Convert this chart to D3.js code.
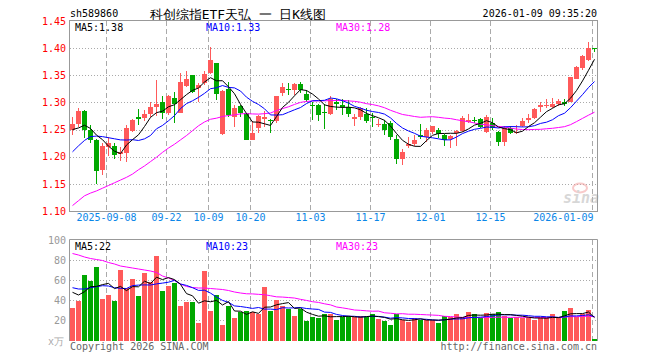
<!DOCTYPE html>
<html><head><meta charset="utf-8">
<script src="https://cdn.jsdelivr.net/npm/d3@7"></script>
<style>
html,body{margin:0;padding:0;background:#fff;}
svg{display:block;}
text{font-family:"DejaVu Sans Mono",monospace;}
</style></head><body>
<div id="chart"></div>
<script>
// ---------- data ----------
const dates = [
"2025-08-29","2025-09-01","2025-09-02","2025-09-03","2025-09-04","2025-09-05",
"2025-09-08","2025-09-09","2025-09-10","2025-09-11","2025-09-12",
"2025-09-15","2025-09-16","2025-09-17","2025-09-18","2025-09-19",
"2025-09-22","2025-09-23","2025-09-24","2025-09-25","2025-09-26","2025-09-29","2025-09-30",
"2025-10-09","2025-10-10","2025-10-13","2025-10-14","2025-10-15","2025-10-16","2025-10-17",
"2025-10-20","2025-10-21","2025-10-22","2025-10-23","2025-10-24",
"2025-10-27","2025-10-28","2025-10-29","2025-10-30","2025-10-31",
"2025-11-03","2025-11-04","2025-11-05","2025-11-06","2025-11-07",
"2025-11-10","2025-11-11","2025-11-12","2025-11-13","2025-11-14",
"2025-11-17","2025-11-18","2025-11-19","2025-11-20","2025-11-21",
"2025-11-24","2025-11-25","2025-11-26","2025-11-27","2025-11-28",
"2025-12-01","2025-12-02","2025-12-03","2025-12-04","2025-12-05",
"2025-12-08","2025-12-09","2025-12-10","2025-12-11","2025-12-12",
"2025-12-15","2025-12-16","2025-12-17","2025-12-18","2025-12-19",
"2025-12-22","2025-12-23","2025-12-24","2025-12-25","2025-12-26",
"2025-12-29","2025-12-30","2025-12-31",
"2026-01-05","2026-01-06","2026-01-07","2026-01-08","2026-01-09"];

const open  = [1.250,1.260,1.285,1.250,1.231,1.176,1.217,1.220,1.205,1.206,
               1.248,1.273,1.271,1.279,1.292,1.300,1.281,1.309,1.281,1.330,
               1.350,1.326,1.335,1.355,1.372,1.242,1.324,1.273,1.293,1.281,
               1.231,1.252,1.270,1.268,1.265,1.318,1.324,1.323,1.334,1.315,
               1.296,1.295,1.282,1.279,1.301,1.296,1.292,1.269,1.273,1.279,
               1.273,1.258,1.260,1.263,1.233,1.196,1.220,1.224,1.240,1.237,
               1.246,1.250,1.240,1.232,1.244,1.248,1.264,1.268,1.269,1.246,
               1.262,1.246,1.228,1.252,1.243,1.256,1.268,1.271,1.292,1.293,
               1.291,1.297,1.301,1.301,1.344,1.363,1.378,1.400];
const high  = [1.273,1.289,1.286,1.258,1.232,1.225,1.237,1.225,1.217,1.258,
               1.269,1.287,1.286,1.300,1.341,1.312,1.314,1.320,1.355,1.357,
               1.350,1.336,1.357,1.403,1.373,1.323,1.338,1.295,1.295,1.281,
               1.265,1.277,1.285,1.269,1.312,1.336,1.336,1.336,1.338,1.323,
               1.301,1.298,1.298,1.311,1.307,1.307,1.304,1.279,1.292,1.289,
               1.281,1.269,1.268,1.265,1.240,1.215,1.237,1.240,1.260,1.252,
               1.257,1.252,1.242,1.240,1.249,1.275,1.279,1.273,1.271,1.277,
               1.271,1.248,1.256,1.256,1.258,1.271,1.279,1.289,1.300,1.306,
               1.309,1.307,1.306,1.347,1.368,1.387,1.412,1.401];
const low   = [1.240,1.254,1.235,1.225,1.150,1.167,1.201,1.196,1.193,1.191,
               1.246,1.258,1.265,1.273,1.275,1.269,1.277,1.263,1.280,1.329,
               1.318,1.301,1.332,1.353,1.304,1.240,1.273,1.255,1.273,1.230,
               1.230,1.244,1.255,1.243,1.263,1.311,1.314,1.314,1.317,1.300,
               1.268,1.266,1.251,1.277,1.286,1.277,1.274,1.257,1.268,1.262,
               1.255,1.254,1.240,1.231,1.187,1.185,1.216,1.220,1.233,1.228,
               1.242,1.234,1.220,1.216,1.219,1.246,1.262,1.262,1.252,1.244,
               1.250,1.219,1.220,1.242,1.241,1.254,1.262,1.269,1.282,1.289,
               1.289,1.293,1.294,1.300,1.343,1.360,1.377,1.393];
const close = [1.261,1.285,1.249,1.230,1.174,1.219,1.225,1.203,1.208,1.253,
               1.268,1.270,1.279,1.292,1.297,1.281,1.311,1.298,1.338,1.344,
               1.320,1.333,1.353,1.378,1.315,1.321,1.277,1.289,1.280,1.231,
               1.243,1.275,1.274,1.265,1.312,1.328,1.322,1.334,1.322,1.304,
               1.295,1.277,1.280,1.307,1.298,1.292,1.279,1.274,1.289,1.265,
               1.271,1.260,1.250,1.237,1.196,1.208,1.224,1.231,1.236,1.249,
               1.257,1.241,1.231,1.238,1.248,1.271,1.268,1.266,1.254,1.273,
               1.252,1.228,1.252,1.244,1.245,1.266,1.271,1.287,1.295,1.296,
               1.297,1.303,1.297,1.346,1.366,1.386,1.401,1.398];
// volume, 万
const volume = [32,39,65,59,73,41,45,39,70,52,
                61,44,67,58,84,49,54,57,34,38,
                38,17,69,29,45,15,34,22,28,29,
                28,26,53,29,40,34,31,24,31,19,
                23,22,26,26,20,23,24,23,24,23,
                26,21,19,15,26,20,18,22,20,20,
                20,17,24,23,26,22,28,26,22,27,
                26,28,24,22,23,22,23,20,22,22,
                26,22,29,32,23,26,30,1];

const ma5Lead  = [1.250,1.253,1.258,1.252];
const ma10Lead = [1.209,1.220,1.230,1.237,1.238,1.237,1.235,1.233,1.231];
const ma30Lead = [1.110,1.119,1.128,1.133,1.137,1.142,1.147,1.152,1.157,1.162,
                  1.168,1.176,1.183,1.191,1.199,1.208,1.216,1.223,1.231,1.239,
                  1.248,1.257,1.264,1.269,1.271,1.274,1.276,1.277,1.279];
const vma5Lead  = [47.7,45,48.3,53.3];
const vma10Lead = [52.3,51,51,52.3,53.3,54.3,54,52.3,51.7];
const vma30Lead = [86.5,85,83,81.5,80.5,79.5,77.5,76,74,73,
                   72,71,70,69,67.5,64,62,59.5,56,53.5,
                   52.5,52,52,51.5,51,50.5,49.5,48,47];

const priceTicks = [1.10,1.15,1.20,1.25,1.30,1.35,1.40,1.45];
const volTicks = [20,40,60,80,100];
const dateTicks = ["2025-09-08","2025-09-22","2025-10-09","2025-10-20","2025-11-03","2025-11-17","2025-12-01","2025-12-15","2026-01-09"];
const dateTickLabels = ["2025-09-08","09-22","10-09","10-20","11-03","11-17","12-01","12-15","2026-01-09"];

const code = "sh589860";
const title = "科创综指ETF天弘 一 日K线图";
const stamp = "2026-01-09 09:35:20";
const maLabels = ["MA5:1.38","MA10:1.33","MA30:1.28"];
const vmaLabels = ["MA5:22","MA10:23","MA30:23"];

// ---------- helpers ----------
function movingAvg(vals, n, lead){
  return vals.map((v,i)=> i < n-1 ? lead[i] : d3.mean(vals.slice(i-n+1,i+1)));
}
const ma5 = movingAvg(close,5,ma5Lead), ma10 = movingAvg(close,10,ma10Lead), ma30 = movingAvg(close,30,ma30Lead);
const vma5 = movingAvg(volume,5,vma5Lead), vma10 = movingAvg(volume,10,vma10Lead), vma30 = movingAvg(volume,30,vma30Lead);

const RED = "#ff5a5a", GREEN = "#00a800";
const W = 660, H = 360;
const L = 69.5, R = 597.5;

const svg = d3.select("#chart").append("svg").attr("width",W).attr("height",H);

const x = d3.scaleBand().domain(dates).range([L,R]).padding(0);
const cx = d => x(d) + x.bandwidth()/2;
const gx = d => x(d) + 1; // grid line position
const y = d3.scaleLinear().domain([1.10,1.45]).range([211,21]);
const yv = d3.scaleLinear().domain([0,100]).range([340,240]);

// ---------- header ----------
svg.append("text").attr("x",70).attr("y",17).attr("font-size",10).attr("fill","#000").text(code);
svg.append("text").attr("x",150).attr("y",19).attr("font-size",13)
   .attr("textLength",176).attr("lengthAdjust","spacingAndGlyphs")
   .attr("font-family","'Noto Sans CJK SC',sans-serif").attr("fill","#000").text(title);
svg.append("text").attr("x",597).attr("y",17).attr("text-anchor","end").attr("font-size",10).attr("fill","#000").text(stamp);

// ---------- grids ----------
const grid = svg.append("g");
grid.selectAll(".hp").data(priceTicks.filter(t=>t>1.101 && t<1.449)).join("line")
  .attr("x1",70).attr("x2",597).attr("y1",d=>Math.round(y(d))+0.5).attr("y2",d=>Math.round(y(d))+0.5)
  .attr("stroke","#aaa").attr("stroke-dasharray","1,2");
grid.selectAll(".hv").data(volTicks.filter(t=>t<100)).join("line")
  .attr("x1",70).attr("x2",597).attr("y1",d=>Math.round(yv(d))+0.5).attr("y2",d=>Math.round(yv(d))+0.5)
  .attr("stroke","#aaa").attr("stroke-dasharray","1,2");
[[21,211],[240,341]].forEach(([a,b])=>{
  grid.append("g").selectAll("line").data(dateTicks).join("line")
    .attr("x1",d=>Math.floor(gx(d))+0.5).attr("x2",d=>Math.floor(gx(d))+0.5)
    .attr("y1",a).attr("y2",b)
    .attr("stroke","#aaa").attr("stroke-dasharray","5,3");
});

// ---------- watermark ----------
const wm = svg.append("g").attr("opacity",0.55);
wm.append("ellipse").attr("cx",580).attr("cy",188).attr("rx",7).attr("ry",4.5)
  .attr("fill","none").attr("stroke","#f4a0a0").attr("stroke-width",2);
wm.append("text").attr("x",581).attr("y",203).attr("text-anchor","middle")
  .attr("font-family","'DejaVu Sans',sans-serif").attr("font-style","italic").attr("font-weight","bold")
  .attr("font-size",15).attr("fill","#b8b8b8").text("sina");

// ---------- candles ----------
const idx = d3.range(dates.length);
const candles = svg.append("g").attr("shape-rendering","crispEdges");
candles.selectAll(".wick").data(idx).join("line")
  .attr("x1",i=>cx(dates[i])).attr("x2",i=>cx(dates[i]))
  .attr("y1",i=>y(high[i])).attr("y2",i=>y(low[i]))
  .attr("stroke",i=>close[i]>=open[i]?RED:GREEN);
candles.selectAll(".body").data(idx).join("rect")
  .attr("x",i=>x(dates[i])+0.5).attr("width",x.bandwidth()-1)
  .attr("y",i=>y(Math.max(open[i],close[i])))
  .attr("height",i=>Math.max(1,Math.abs(y(open[i])-y(close[i]))))
  .attr("fill",i=>close[i]>=open[i]?RED:GREEN);

// ---------- volume bars ----------
svg.append("g").attr("shape-rendering","crispEdges").selectAll("rect").data(idx).join("rect")
  .attr("x",i=>x(dates[i])+0.5).attr("width",x.bandwidth()-1)
  .attr("y",i=>yv(volume[i])).attr("height",i=>yv(0)-yv(volume[i])+1)
  .attr("fill",i=>close[i]>=open[i]?RED:GREEN);

// ---------- MA lines ----------
function drawLine(vals, scale, color){
  const ln = d3.line().x((v,i)=>cx(dates[i])).y(v=>scale(v));
  svg.append("path").datum(vals).attr("d",ln).attr("fill","none")
    .attr("stroke",color).attr("stroke-width",1);
}
drawLine(ma30,y,"#ff00ff"); drawLine(ma10,y,"#0000ff"); drawLine(ma5,y,"#000");
drawLine(vma30,yv,"#ff00ff"); drawLine(vma10,yv,"#0000ff"); drawLine(vma5,yv,"#000");

// ---------- borders ----------
svg.append("rect").attr("x",69.5).attr("y",20.5).attr("width",528).attr("height",191)
  .attr("fill","none").attr("stroke","#999");
svg.append("path").attr("d","M69.5,341V239.5H597.5V341").attr("fill","none").attr("stroke","#999");

// ---------- axes ----------
const ya = svg.append("g").attr("transform","translate(66,0)")
  .call(d3.axisLeft(y).tickValues(priceTicks).tickFormat(d3.format(".2f")).tickSize(0).tickPadding(0));
ya.select(".domain").remove();
ya.selectAll("text").attr("fill","#f00").attr("font-size",10).attr("font-family","'DejaVu Sans Mono',monospace");

const yva = svg.append("g").attr("transform","translate(66,0)")
  .call(d3.axisLeft(yv).tickValues(volTicks).tickSize(0).tickPadding(0));
yva.select(".domain").remove();
yva.selectAll("text").attr("fill","#999").attr("font-size",10).attr("font-family","'DejaVu Sans Mono',monospace");

const xa = svg.append("g").attr("transform","translate(0,214)")
  .call(d3.axisBottom(x).tickValues(dateTicks).tickFormat((d,i)=>dateTickLabels[i]).tickSize(0).tickPadding(0));
xa.select(".domain").remove();
xa.selectAll("text").attr("fill","#0a86e8").attr("font-size",10).attr("font-family","'DejaVu Sans Mono',monospace")
  .attr("dy","0.71em").attr("x",-2);
xa.selectAll(".tick").filter((d,i)=>i===dateTicks.length-1).select("text")
  .attr("text-anchor","end").attr("x",-1);

// ---------- MA legends ----------
const legX = [75,206,336], legC = ["#000","#0000ff","#ff00ff"];
maLabels.forEach((t,i)=>svg.append("text").attr("x",legX[i]).attr("y",31).attr("font-size",10).attr("fill",legC[i]).text(t));
vmaLabels.forEach((t,i)=>svg.append("text").attr("x",legX[i]).attr("y",250).attr("font-size",10).attr("fill",legC[i]).text(t));

// ---------- footer ----------
svg.append("text").attr("x",48).attr("y",345).attr("font-size",10).attr("fill","#aaa")
  .attr("font-family","'Noto Sans CJK SC',sans-serif").text("x万");
svg.append("text").attr("x",70).attr("y",350).attr("font-size",10).attr("fill","#666").text("Copyright 2026 SINA.COM");
svg.append("text").attr("x",597).attr("y",350).attr("text-anchor","end").attr("font-size",10).attr("fill","#666").text("http://finance.sina.com.cn");
</script>
</body></html>
